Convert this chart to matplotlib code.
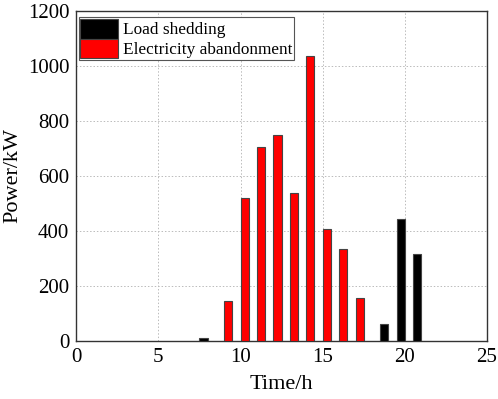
import numpy as np
import matplotlib.pyplot as plt
from matplotlib import rcParams

rcParams['font.family'] = ['Liberation Serif', 'DejaVu Serif']

# hours and values
shed_hours = [8, 19, 20, 21]
shed_power = [10, 60, 445, 318]
aband_hours = [9, 10, 11, 12, 13, 14, 15, 16, 17]
aband_power = [145, 520, 705, 748, 537, 1038, 408, 335, 157]

fig = plt.figure(figsize=(4.98, 3.99), dpi=100)
ax = fig.add_axes([0.153, 0.1454, 0.825, 0.827])

w = 0.5
ax.bar(np.array(shed_hours) - 0.25, shed_power, width=w, color='black',
       edgecolor='#444444', linewidth=0.8, label='Load shedding', zorder=3)
ax.bar(np.array(aband_hours) + 0.25, aband_power, width=w, color='#ff0000',
       edgecolor='#444444', linewidth=0.8, label='Electricity abandonment', zorder=3)

ax.set_xlim(0, 25)
ax.set_ylim(0, 1200)
ax.set_xticks([0, 5, 10, 15, 20, 25])
ax.set_yticks([0, 200, 400, 600, 800, 1000, 1200])
ax.grid(True, linestyle=(0, (1.5, 2)), color='#bbbbbb', linewidth=0.7, zorder=0)
ax.tick_params(direction='in', length=0, labelsize=15, pad=5)
for s in ax.spines.values():
    s.set_linewidth(1.0)
    s.set_color('#333333')

ax.set_xlabel('Time/h', fontsize=16, labelpad=6)
ax.set_ylabel('Power/kW', fontsize=16, labelpad=4)

leg = ax.legend(loc='upper left', bbox_to_anchor=(0.006, 0.982), borderaxespad=0,
                fontsize=12.4, handlelength=2.2, handleheight=1.4,
                handletextpad=0.25, borderpad=0.1, labelspacing=0.0,
                fancybox=False, framealpha=1)
leg.get_frame().set_edgecolor('#555555')
leg.get_frame().set_linewidth(0.8)

fig.savefig('out.png', dpi=100)
